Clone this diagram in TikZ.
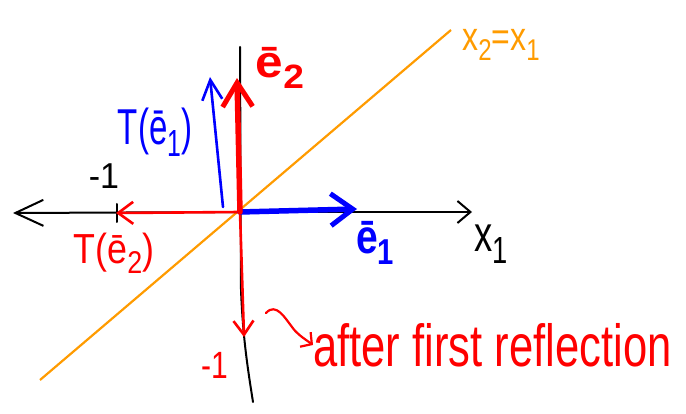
\documentclass[tikz,border=0pt]{standalone}
\usepackage{fontspec}
\setmainfont{Liberation Sans}
\usetikzlibrary{arrows.meta}
\definecolor{pen red}{RGB}{255,0,0}
\definecolor{pen blue}{RGB}{0,0,255}
\definecolor{pen orange}{RGB}{255,155,0}
\newcommand\lowsub[1]{\raisebox{-0.45ex}{\scalebox{0.75}{#1}}}
\newcommand\hw[3]{\scalebox{#1}[#2]{#3}}
\tikzset{
  axis/.style={draw=black, line width=2pt, line cap=round},
  lbl/.style={inner sep=0pt, font=\fontsize{24}{26}\selectfont},
}
\begin{document}
\begin{tikzpicture}[x=1pt,y=-1pt]
\useasboundingbox (0,0) rectangle (686,414);
% coordinates
\coordinate (O) at (240,212);
\coordinate (xl) at (13,213);
\coordinate (xr) at (472,212);
\coordinate (yt) at (240,47);
\coordinate (yb) at (253,402);
\coordinate (dl) at (40,380);
\coordinate (dr) at (451,30);
\coordinate (e1) at (357,209);
\coordinate (e2) at (237,78);
\coordinate (Te1s) at (223,207);
\coordinate (Te1) at (210,77);
\coordinate (Te2) at (116,213);
\coordinate (dn) at (244,337);
\coordinate (tick) at (117,204);
\coordinate (tickb) at (117,222);
% reflection line
\draw[pen orange, line width=2.2pt] (dl) -- (dr);
% axes
\draw[axis, -{Straight Barb[length=13pt,width=22pt,line width=2pt]}] (O) -- (xr);
\draw[axis, -{Straight Barb[length=28pt,width=26pt,line width=2pt]}] (O) -- (xl);
\draw[axis] (yt) -- (241,290) .. controls (243,340) and (248,370) .. (yb);
\draw[axis] (tick) -- (tickb);
% vectors
\draw[pen red, line width=2.6pt, line cap=round, -{Straight Barb[length=15pt,width=22pt,line width=2.6pt]}] (O) -- (Te2);
\draw[pen red, line width=2.6pt, line cap=round, -{Straight Barb[length=14pt,width=20pt,line width=2.6pt]}] (O) -- (dn);
\draw[pen blue, line width=2.6pt, line cap=round, -{Straight Barb[length=20pt,width=20pt,line width=2.6pt]}] (Te1s) -- (Te1);
\draw[pen blue, line width=5.5pt, line cap=round, -{Straight Barb[length=22pt,width=32pt,line width=5pt]}] (O) -- (e1);
\draw[pen red, line width=5.5pt, line cap=round, -{Straight Barb[length=24pt,width=30pt,line width=5pt]}] (O) -- (e2);
% labels
\node[lbl, font=\fontsize{28}{30}\selectfont] (x1) at (491,244) {\hw{1.3}{1.8}{x\lowsub{1}}};
\node[lbl, text=pen orange, font=\fontsize{20}{22}\selectfont] (diag) at (501,45) {\hw{1.6}{2}{x\lowsub{2}=x\lowsub{1}}};
\node[lbl, text=pen blue, font=\fontsize{30}{32}\bfseries\selectfont] (le1) at (375,243) {\hw{1.3}{1.6}{ē\lowsub{1}}};
\node[lbl, text=pen red, font=\fontsize{30}{32}\bfseries\selectfont] (le2) at (280,68) {\hw{1.65}{1.5}{ē\lowsub{2}}};
\node[lbl, text=pen blue, font=\fontsize{28}{30}\selectfont] (lTe1) at (155,132) {\hw{1.18}{1.8}{T(ē\lowsub{1})}};
\node[lbl, text=pen red, font=\fontsize{28}{30}\selectfont] (lTe2) at (114,253) {\hw{1.28}{1.5}{T(ē\lowsub{2})}};
\node[lbl, font=\fontsize{20}{22}\selectfont] (m1) at (104,176) {\hw{1.7}{1.8}{-1}};
\node[lbl, text=pen red, font=\fontsize{20}{22}\selectfont] (m1r) at (215,365) {\hw{1.5}{1.9}{-1}};
\node[lbl, text=pen red, font=\fontsize{33}{36}\selectfont, anchor=west] (note) at (313,345) {\hw{1.32}{1.8}{after first reflection}};
\coordinate (sq) at (266,313);
\draw[pen red, line width=2.2pt, line cap=round, -{Straight Barb[length=8pt,width=18pt,line width=2.2pt]}]
  (sq) .. controls (276,302) and (285,318) .. (292,327) .. controls (297,334) and (302,337) .. (note.west);
\end{tikzpicture}
\end{document}
